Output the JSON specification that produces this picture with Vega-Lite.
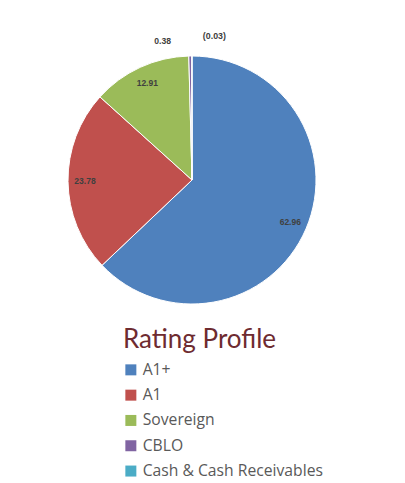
{
  "$schema": "https://vega.github.io/schema/vega-lite/v6.json",
  "width": 384,
  "height": 360,
  "autosize": "none",
  "padding": {"left": 0, "top": 0, "right": 21, "bottom": 123},
  "background": "white",
  "config": {"view": {"stroke": null}},
  "data": {
    "values": [
      {"category": "A1+", "pct": 62.96, "label": "62.96"},
      {"category": "A1", "pct": 23.78, "label": "23.78"},
      {"category": "Sovereign", "pct": 12.91, "label": "12.91"},
      {"category": "CBLO", "pct": 0.38, "label": "0.38"},
      {"category": "Cash & Cash Receivables", "pct": 0.03, "label": "(0.03)"}
    ]
  },
  "encoding": {
    "theta": {"field": "pct", "type": "quantitative", "stack": true},
    "order": {"field": "pct", "sort": "descending"}
  },
  "layer": [
    {
      "mark": {"type": "arc", "outerRadius": 124, "stroke": "white", "strokeWidth": 1},
      "encoding": {
        "color": {
          "field": "category",
          "type": "nominal",
          "scale": {
            "domain": ["A1+", "A1", "Sovereign", "CBLO", "Cash & Cash Receivables"],
            "range": ["#4F81BD", "#C0504D", "#9BBB59", "#8064A2", "#4BACC6"]
          },
          "legend": {
            "orient": "none",
            "legendX": 123,
            "legendY": 327,
            "title": "Rating Profile",
            "titleFont": "Lato",
            "titleFontSize": 26,
            "titleFontWeight": "normal",
            "titleColor": "#6E2B30",
            "titlePadding": 9,
            "labelFont": "Open Sans",
            "labelFontSize": 15.7,
            "labelColor": "#595959",
            "labelOffset": 4,
            "labelLimit": 300,
            "symbolType": "square",
            "symbolSize": 121,
            "symbolStrokeWidth": 0,
            "symbolOpacity": 1,
            "rowPadding": 8.3,
            "padding": 0
          }
        }
      }
    },
    {
      "mark": {"type": "text", "radius": 107, "font": "'Liberation Sans Narrow', 'Liberation Sans', sans-serif", "fontWeight": "bold", "fontSize": 8.5, "fill": "#404040"},
      "encoding": {
        "text": {"condition": {"test": "datum.pct > 1", "field": "label"}, "value": ""}
      }
    },
    {
      "mark": {"type": "text", "radius": 139, "align": "right", "baseline": "middle", "dx": -19, "font": "'Liberation Sans Narrow', 'Liberation Sans', sans-serif", "fontWeight": "bold", "fontSize": 8.6, "fill": "#404040"},
      "encoding": {
        "text": {"condition": {"test": "datum.category === 'CBLO'", "field": "label"}, "value": ""}
      }
    },
    {
      "mark": {"type": "text", "radius": 144, "align": "left", "baseline": "middle", "dx": 11, "font": "'Liberation Sans Narrow', 'Liberation Sans', sans-serif", "fontWeight": "bold", "fontSize": 8.8, "fill": "#404040"},
      "encoding": {
        "text": {"condition": {"test": "datum.category === 'Cash & Cash Receivables'", "field": "label"}, "value": ""}
      }
    }
  ]
}
